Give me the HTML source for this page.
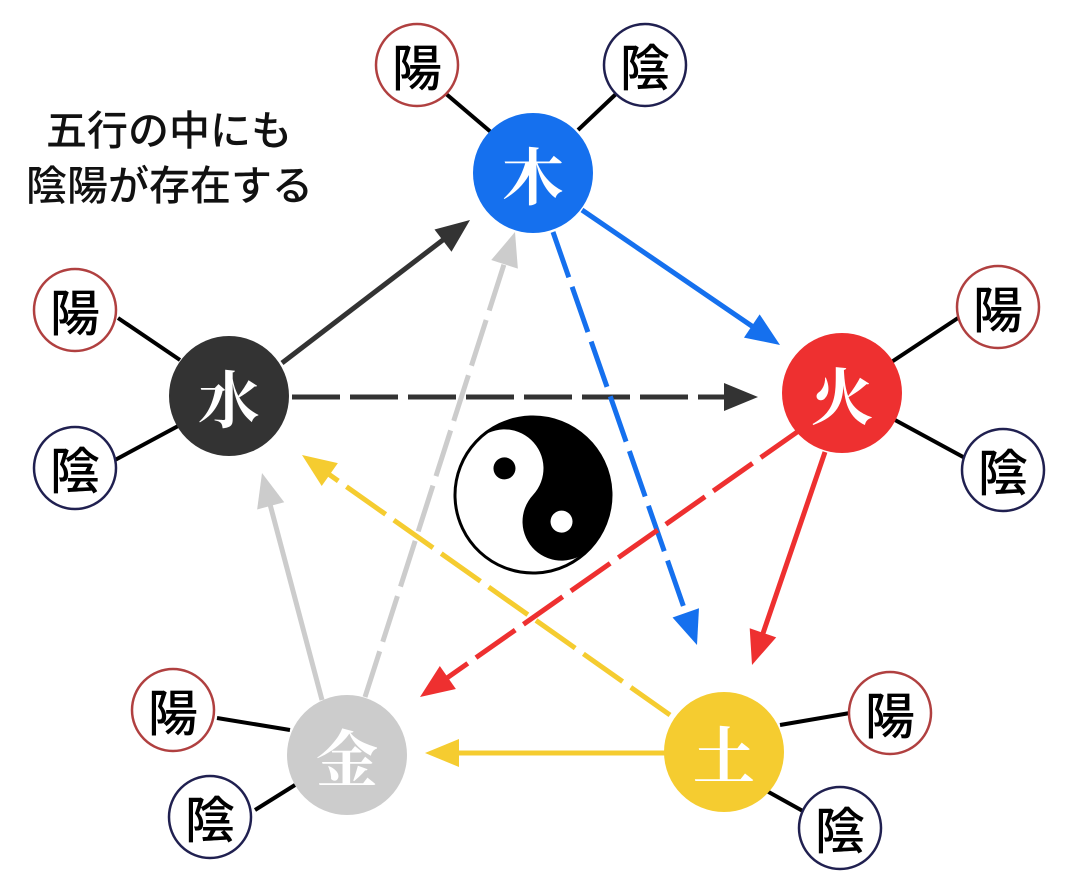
<!DOCTYPE html>
<html><head><meta charset="utf-8"><style>
html,body{margin:0;padding:0;background:#fff;}
svg{display:block}
.s{font-family:"Noto Sans CJK JP",sans-serif;font-size:50px;font-weight:500;fill:#000;text-anchor:middle;dominant-baseline:central}
.n{font-family:"Noto Serif CJK JP","Noto Serif CJK SC",serif;font-weight:bold;font-size:62px;fill:#fff;text-anchor:middle;dominant-baseline:central}
.t{font-family:"Noto Sans CJK JP",sans-serif;font-size:41px;font-weight:500;fill:#111}
</style></head><body>
<svg width="1074" height="888" viewBox="0 0 1074 888" xmlns="http://www.w3.org/2000/svg">
<text class="t" x="46" y="145">五行の中にも</text>
<text class="t" x="26" y="200">陰陽が存在する</text>

<g stroke="#000" stroke-width="4">
<line x1="445" y1="93" x2="492" y2="133"/>
<line x1="617" y1="93" x2="578" y2="130"/>
<line x1="118" y1="318" x2="180" y2="360"/>
<line x1="115" y1="460" x2="180" y2="425"/>
<line x1="958" y1="318" x2="890" y2="363"/>
<line x1="965" y1="458" x2="895" y2="420"/>
<line x1="217" y1="718" x2="290" y2="730"/>
<line x1="255" y1="810" x2="295" y2="785"/>
<line x1="850" y1="713" x2="780" y2="725"/>
<line x1="810" y1="815" x2="765" y2="790"/>
</g>

<g stroke-width="5" fill="none">
<line x1="282" y1="363" x2="452" y2="233" stroke="#333"/>
<line x1="292" y1="397" x2="735" y2="397" stroke="#333" stroke-dasharray="48,10"/>
<line x1="582" y1="210" x2="762" y2="333" stroke="#1570ee"/>
<line x1="553" y1="232" x2="690" y2="625" stroke="#1570ee" stroke-dasharray="48,10"/>
<line x1="825" y1="452" x2="759" y2="645" stroke="#ee3030"/>
<line x1="800" y1="430" x2="437" y2="685" stroke="#ee3030" stroke-dasharray="48,10"/>
<line x1="665" y1="753" x2="448" y2="753" stroke="#f5cc30"/>
<line x1="670" y1="715" x2="320" y2="468" stroke="#f5cc30" stroke-dasharray="48,10"/>
<line x1="322" y1="700" x2="267" y2="493" stroke="#ccc"/>
<line x1="365" y1="697" x2="508" y2="252" stroke="#ccc" stroke-dasharray="48,10"/>
</g>
<g>
<polygon points="0,0 -34,-14 -34,14" fill="#333" transform="translate(470,220) rotate(-37.4)"/>
<polygon points="0,0 -34,-14 -34,14" fill="#333" transform="translate(758,397)"/>
<polygon points="0,0 -34,-14 -34,14" fill="#1570ee" transform="translate(780,345) rotate(34)"/>
<polygon points="0,0 -34,-14 -34,14" fill="#1570ee" transform="translate(697,645) rotate(70.7)"/>
<polygon points="0,0 -34,-14 -34,14" fill="#ee3030" transform="translate(752,665) rotate(108.8)"/>
<polygon points="0,0 -34,-14 -34,14" fill="#ee3030" transform="translate(420,697) rotate(145)"/>
<polygon points="0,0 -34,-14 -34,14" fill="#f5cc30" transform="translate(425,753) rotate(180)"/>
<polygon points="0,0 -34,-14 -34,14" fill="#f5cc30" transform="translate(302,455) rotate(-144.8)"/>
<polygon points="0,0 -34,-14 -34,14" fill="#ccc" transform="translate(262,473) rotate(-104.8)"/>
<polygon points="0,0 -34,-14 -34,14" fill="#ccc" transform="translate(515,232) rotate(-72.1)"/>
</g>

<circle cx="533" cy="173" r="60" fill="#1570ee"/><text class="n" x="533" y="173">木</text>
<circle cx="229" cy="396" r="60" fill="#333"/><text class="n" x="229" y="396">水</text>
<circle cx="842" cy="393" r="60" fill="#ee3030"/><text class="n" x="842" y="393">火</text>
<circle cx="347" cy="755" r="60" fill="#ccc"/><text class="n" x="347" y="755">金</text>
<circle cx="724" cy="752" r="60" fill="#f5cc30"/><text class="n" x="724" y="752">土</text>

<g fill="#fff" stroke-width="2.5">
<circle cx="417" cy="65" r="41" stroke="#b04040"/>
<circle cx="645" cy="65" r="41" stroke="#202050"/>
<circle cx="75" cy="310" r="41" stroke="#b04040"/>
<circle cx="75" cy="468" r="41" stroke="#202050"/>
<circle cx="998" cy="307" r="41" stroke="#b04040"/>
<circle cx="1003" cy="470" r="41" stroke="#202050"/>
<circle cx="173" cy="710" r="41" stroke="#b04040"/>
<circle cx="210" cy="817" r="41" stroke="#202050"/>
<circle cx="890" cy="713" r="41" stroke="#b04040"/>
<circle cx="840" cy="828" r="41" stroke="#202050"/>
</g>
<text class="s" x="417" y="65">陽</text><text class="s" x="645" y="65">陰</text>
<text class="s" x="75" y="310">陽</text><text class="s" x="75" y="468">陰</text>
<text class="s" x="998" y="307">陽</text><text class="s" x="1003" y="470">陰</text>
<text class="s" x="173" y="710">陽</text><text class="s" x="210" y="817">陰</text>
<text class="s" x="890" y="713">陽</text><text class="s" x="840" y="828">陰</text>

<g transform="translate(533,495) rotate(-47)">
<circle r="78" fill="#fff" stroke="#000" stroke-width="3"/>
<path d="M0,-78 A78,78 0 0 1 0,78 A39,39 0 0 1 0,0 A39,39 0 0 0 0,-78 Z" fill="#000"/>
<circle cx="0" cy="-39" r="11" fill="#000"/>
<circle cx="0" cy="39" r="11" fill="#fff"/>
</g>
</svg>
</body></html>
